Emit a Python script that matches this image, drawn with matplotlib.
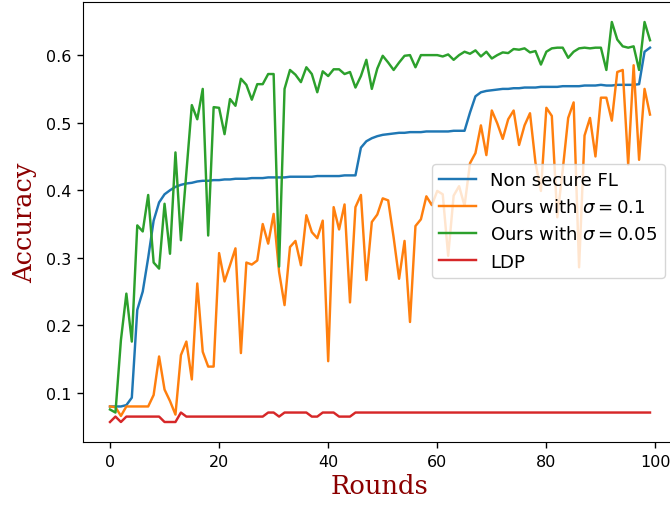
import matplotlib
matplotlib.use("Agg")
import matplotlib.pyplot as plt
import numpy as np

# accuracy per round
rounds = np.arange(100)

non_secure = [0.080, 0.080, 0.080, 0.082, 0.093, 0.223, 0.250, 0.300, 0.355, 0.382,
              0.394, 0.400, 0.405, 0.408, 0.410, 0.411, 0.413, 0.414, 0.414, 0.415,
              0.415, 0.416, 0.416, 0.417, 0.417, 0.417, 0.418, 0.418, 0.418, 0.419,
              0.419, 0.419, 0.419, 0.420, 0.420, 0.420, 0.420, 0.420, 0.421, 0.421,
              0.421, 0.421, 0.421, 0.422, 0.422, 0.422, 0.463, 0.4725, 0.477, 0.480,
              0.482, 0.483, 0.484, 0.485, 0.485, 0.486, 0.486, 0.486, 0.487, 0.487,
              0.487, 0.487, 0.487, 0.488, 0.488, 0.488, 0.515, 0.539, 0.545, 0.547,
              0.548, 0.549, 0.550, 0.550, 0.551, 0.551, 0.552, 0.552, 0.552, 0.553,
              0.553, 0.553, 0.553, 0.554, 0.554, 0.554, 0.554, 0.555, 0.555, 0.555,
              0.556, 0.555, 0.555, 0.556, 0.556, 0.556, 0.556, 0.557, 0.605, 0.611]

ours_01 = [0.080, 0.079, 0.066, 0.080, 0.080, 0.080, 0.080, 0.080, 0.097, 0.154,
           0.105, 0.088, 0.068, 0.156, 0.176, 0.120, 0.262, 0.161, 0.139, 0.139,
           0.307, 0.265, 0.289, 0.314, 0.159, 0.293, 0.290, 0.296, 0.350, 0.321,
           0.365, 0.279, 0.230, 0.316, 0.325, 0.289, 0.363, 0.338, 0.329, 0.355,
           0.147, 0.375, 0.342, 0.379, 0.234, 0.375, 0.393, 0.267, 0.353, 0.364,
           0.388, 0.385, 0.330, 0.269, 0.325, 0.205, 0.347, 0.357, 0.391, 0.378,
           0.399, 0.394, 0.303, 0.392, 0.406, 0.377, 0.440, 0.455, 0.496, 0.452,
           0.518, 0.499, 0.476, 0.505, 0.518, 0.467, 0.496, 0.514, 0.441, 0.399,
           0.522, 0.510, 0.360, 0.430, 0.507, 0.530, 0.286, 0.481, 0.507, 0.450,
           0.537, 0.537, 0.503, 0.575, 0.578, 0.438, 0.585, 0.445, 0.550, 0.512]

ours_005 = [0.0755, 0.071, 0.178, 0.247, 0.176, 0.348, 0.339, 0.393, 0.293, 0.284,
            0.380, 0.306, 0.456, 0.326, 0.426, 0.526, 0.505, 0.550, 0.333, 0.523,
            0.522, 0.483, 0.535, 0.525, 0.565, 0.556, 0.534, 0.557, 0.557, 0.572,
            0.572, 0.287, 0.550, 0.578, 0.571, 0.560, 0.582, 0.572, 0.545, 0.576,
            0.569, 0.579, 0.579, 0.572, 0.575, 0.552, 0.569, 0.593, 0.550, 0.580,
            0.599, 0.589, 0.578, 0.589, 0.599, 0.600, 0.582, 0.600, 0.600, 0.600,
            0.600, 0.598, 0.601, 0.593, 0.600, 0.605, 0.602, 0.607, 0.598, 0.605,
            0.595, 0.600, 0.604, 0.603, 0.609, 0.608, 0.610, 0.604, 0.606, 0.586,
            0.605, 0.610, 0.611, 0.611, 0.596, 0.605, 0.610, 0.611, 0.610, 0.611,
            0.611, 0.578, 0.649, 0.623, 0.613, 0.611, 0.613, 0.578, 0.649, 0.622]

ldp = [0.057, 0.065, 0.057, 0.065, 0.065, 0.065, 0.065, 0.065, 0.065, 0.065,
       0.057, 0.057, 0.057, 0.071, 0.065, 0.065, 0.065, 0.065, 0.065, 0.065,
       0.065, 0.065, 0.065, 0.065, 0.065, 0.065, 0.065, 0.065, 0.065, 0.071,
       0.071, 0.065, 0.071, 0.071, 0.071, 0.071, 0.071, 0.065, 0.065, 0.071,
       0.071, 0.071, 0.065, 0.065, 0.065, 0.071, 0.071, 0.071, 0.071, 0.071,
       0.071, 0.071, 0.071, 0.071, 0.071, 0.071, 0.071, 0.071, 0.071, 0.071,
       0.071, 0.071, 0.071, 0.071, 0.071, 0.071, 0.071, 0.071, 0.071, 0.071,
       0.071, 0.071, 0.071, 0.071, 0.071, 0.071, 0.071, 0.071, 0.071, 0.071,
       0.071, 0.071, 0.071, 0.071, 0.071, 0.071, 0.071, 0.071, 0.071, 0.071,
       0.071, 0.071, 0.071, 0.071, 0.071, 0.071, 0.071, 0.071, 0.071, 0.071]

fig = plt.figure(figsize=(6.7, 5.06), dpi=100)
# the reference is cropped: the right spine sits just past the image edge
ax = fig.add_axes([83 / 670, 63 / 506, 594 / 670, 440 / 506])

lw = 1.75
ax.plot(rounds, non_secure, color='tab:blue', linewidth=lw, label="Non secure FL")
ax.plot(rounds, ours_01, color='tab:orange', linewidth=lw, label=r"Ours with $\sigma = 0.1$")
ax.plot(rounds, ours_005, color='tab:green', linewidth=lw, label=r"Ours with $\sigma = 0.05$")
ax.plot(rounds, ldp, color='tab:red', linewidth=lw, label="LDP")

ax.set_xticks([0, 20, 40, 60, 80, 100])
ax.tick_params(labelsize=11.5, length=4, width=1, pad=4.5)

ax.set_xlabel("Rounds", fontsize=18.5, color='darkred', family='DejaVu Serif', labelpad=3)
ax.set_ylabel("Accuracy", fontsize=18.5, color='darkred', family='DejaVu Serif', labelpad=6)

ax.legend(loc='upper left', bbox_to_anchor=(432 / 670, 1 - 165 / 506),
          bbox_transform=fig.transFigure, borderaxespad=0, fontsize=13.1)

plt.savefig("out.png", dpi=100)
